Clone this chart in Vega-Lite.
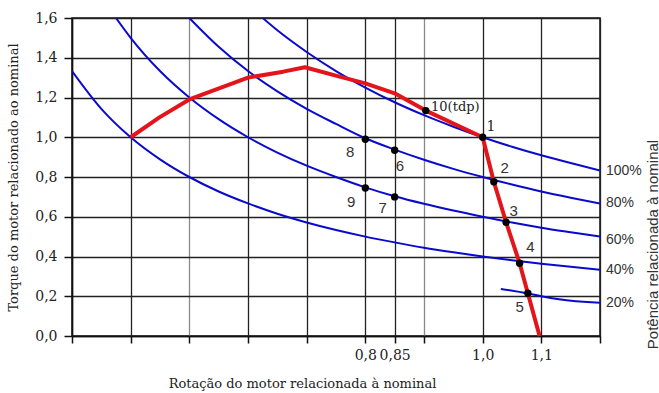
{
  "$schema": "https://vega.github.io/schema/vega-lite/v6.json",
  "width": 528,
  "height": 318,
  "autosize": {"type": "none"},
  "padding": {"left": 72, "top": 18, "right": 59, "bottom": 57},
  "background": "white",
  "config": {
    "view": {"stroke": "#111", "strokeWidth": 1.5},
    "axis": {"labelFont": "DejaVu Serif", "titleFont": "DejaVu Serif", "labelColor": "#222", "titleColor": "#222", "titleFontWeight": "normal"}
  },
  "datasets": {
    "curves": [
      {"curve": "100%", "n": 0.625, "t": 1.6}, {"curve": "100%", "n": 0.65, "t": 1.538}, {"curve": "100%", "n": 0.7, "t": 1.429}, {"curve": "100%", "n": 0.75, "t": 1.333}, {"curve": "100%", "n": 0.8, "t": 1.25}, {"curve": "100%", "n": 0.85, "t": 1.176}, {"curve": "100%", "n": 0.9, "t": 1.111}, {"curve": "100%", "n": 0.95, "t": 1.053}, {"curve": "100%", "n": 1.0, "t": 1.0}, {"curve": "100%", "n": 1.05, "t": 0.952}, {"curve": "100%", "n": 1.1, "t": 0.909}, {"curve": "100%", "n": 1.15, "t": 0.87}, {"curve": "100%", "n": 1.2, "t": 0.833},
      {"curve": "80%", "n": 0.5, "t": 1.6}, {"curve": "80%", "n": 0.55, "t": 1.455}, {"curve": "80%", "n": 0.6, "t": 1.333}, {"curve": "80%", "n": 0.65, "t": 1.231}, {"curve": "80%", "n": 0.7, "t": 1.143}, {"curve": "80%", "n": 0.75, "t": 1.067}, {"curve": "80%", "n": 0.8, "t": 0.995}, {"curve": "80%", "n": 0.85, "t": 0.938}, {"curve": "80%", "n": 0.9, "t": 0.887}, {"curve": "80%", "n": 0.95, "t": 0.841}, {"curve": "80%", "n": 1.0, "t": 0.8}, {"curve": "80%", "n": 1.05, "t": 0.762}, {"curve": "80%", "n": 1.1, "t": 0.727}, {"curve": "80%", "n": 1.15, "t": 0.696}, {"curve": "80%", "n": 1.2, "t": 0.667},
      {"curve": "60%", "n": 0.375, "t": 1.6}, {"curve": "60%", "n": 0.4, "t": 1.5}, {"curve": "60%", "n": 0.45, "t": 1.333}, {"curve": "60%", "n": 0.5, "t": 1.2}, {"curve": "60%", "n": 0.55, "t": 1.091}, {"curve": "60%", "n": 0.6, "t": 1.0}, {"curve": "60%", "n": 0.65, "t": 0.923}, {"curve": "60%", "n": 0.7, "t": 0.857}, {"curve": "60%", "n": 0.75, "t": 0.8}, {"curve": "60%", "n": 0.8, "t": 0.748}, {"curve": "60%", "n": 0.85, "t": 0.703}, {"curve": "60%", "n": 0.9, "t": 0.665}, {"curve": "60%", "n": 0.95, "t": 0.631}, {"curve": "60%", "n": 1.0, "t": 0.6}, {"curve": "60%", "n": 1.05, "t": 0.571}, {"curve": "60%", "n": 1.1, "t": 0.545}, {"curve": "60%", "n": 1.15, "t": 0.522}, {"curve": "60%", "n": 1.2, "t": 0.5},
      {"curve": "40%", "n": 0.3, "t": 1.333}, {"curve": "40%", "n": 0.35, "t": 1.143}, {"curve": "40%", "n": 0.4, "t": 1.0}, {"curve": "40%", "n": 0.45, "t": 0.889}, {"curve": "40%", "n": 0.5, "t": 0.8}, {"curve": "40%", "n": 0.55, "t": 0.727}, {"curve": "40%", "n": 0.6, "t": 0.667}, {"curve": "40%", "n": 0.65, "t": 0.615}, {"curve": "40%", "n": 0.7, "t": 0.571}, {"curve": "40%", "n": 0.75, "t": 0.533}, {"curve": "40%", "n": 0.8, "t": 0.5}, {"curve": "40%", "n": 0.85, "t": 0.471}, {"curve": "40%", "n": 0.9, "t": 0.444}, {"curve": "40%", "n": 0.95, "t": 0.421}, {"curve": "40%", "n": 1.0, "t": 0.4}, {"curve": "40%", "n": 1.05, "t": 0.381}, {"curve": "40%", "n": 1.1, "t": 0.364}, {"curve": "40%", "n": 1.15, "t": 0.348}, {"curve": "40%", "n": 1.2, "t": 0.333},
      {"curve": "20%", "n": 1.031, "t": 0.237}, {"curve": "20%", "n": 1.077, "t": 0.214}, {"curve": "20%", "n": 1.1, "t": 0.2}, {"curve": "20%", "n": 1.13, "t": 0.185}, {"curve": "20%", "n": 1.2, "t": 0.167}
    ],
    "red": [
      {"o": 1, "n": 0.4, "t": 1.0}, {"o": 2, "n": 0.449, "t": 1.1}, {"o": 3, "n": 0.5, "t": 1.19}, {"o": 4, "n": 0.6, "t": 1.3}, {"o": 5, "n": 0.66, "t": 1.33}, {"o": 6, "n": 0.697, "t": 1.352}, {"o": 7, "n": 0.756, "t": 1.305}, {"o": 8, "n": 0.8, "t": 1.271}, {"o": 9, "n": 0.85, "t": 1.221}, {"o": 10, "n": 0.903, "t": 1.134}, {"o": 11, "n": 1.0, "t": 1.0}, {"o": 12, "n": 1.019, "t": 0.776}, {"o": 13, "n": 1.04, "t": 0.572}, {"o": 14, "n": 1.063, "t": 0.366}, {"o": 15, "n": 1.077, "t": 0.215}, {"o": 16, "n": 1.097, "t": 0.0}
    ],
    "pts": [
      {"id": "1", "n": 1.0, "t": 1.0, "ln": 1.014, "lt": 1.053},
      {"id": "2", "n": 1.019, "t": 0.776, "ln": 1.0375, "lt": 0.845},
      {"id": "3", "n": 1.04, "t": 0.572, "ln": 1.053, "lt": 0.63},
      {"id": "4", "n": 1.063, "t": 0.366, "ln": 1.0816, "lt": 0.448},
      {"id": "5", "n": 1.077, "t": 0.215, "ln": 1.063, "lt": 0.147},
      {"id": "6", "n": 0.85, "t": 0.935, "ln": 0.859, "lt": 0.857},
      {"id": "7", "n": 0.85, "t": 0.7, "ln": 0.8295, "lt": 0.644},
      {"id": "8", "n": 0.8, "t": 0.99, "ln": 0.774, "lt": 0.927},
      {"id": "9", "n": 0.8, "t": 0.745, "ln": 0.776, "lt": 0.676},
      {"id": "10(tdp)", "n": 0.903, "t": 1.134, "ln": 0.912, "lt": 1.154}
    ],
    "pct": [
      {"label": "100%", "n": 1.2, "t": 0.828},
      {"label": "80%", "n": 1.2, "t": 0.667},
      {"label": "60%", "n": 1.2, "t": 0.483},
      {"label": "40%", "n": 1.2, "t": 0.332},
      {"label": "20%", "n": 1.2, "t": 0.165}
    ]
  },
  "resolve": {"axis": {"y": "independent"}},
  "layer": [
    {
      "data": {"name": "curves"},
      "mark": {"type": "line", "color": "#0a0acd", "strokeWidth": 2, "interpolate": "monotone", "clip": true},
      "encoding": {
        "x": {"field": "n", "type": "quantitative",
          "scale": {"domain": [0.3, 1.2], "nice": false, "zero": false},
          "axis": {
            "values": [0.3, 0.4, 0.5, 0.6, 0.7, 0.8, 0.85, 0.9, 1.0, 1.1, 1.2],
            "labelExpr": "datum.value == 0.8 ? '0,8' : datum.value == 0.85 ? '0,85' : datum.value == 1 ? '1,0' : datum.value == 1.1 ? '1,1' : ''",
            "labelOverlap": false,
            "labelFontSize": 14,
            "labelPadding": 5,
            "tickSize": 7,
            "tickColor": "#111",
            "tickWidth": 1.5,
            "domainColor": "#111",
            "domainWidth": 1.5,
            "grid": true,
            "gridColor": {"condition": {"test": "datum.value == 0.5 || datum.value == 0.9", "value": "#8a8a8a"}, "value": "#222"},
            "gridWidth": 1.3,
            "gridOpacity": 1,
            "title": "Rotação do motor relacionada à nominal",
            "titleFontSize": 13,
            "titleX": 230,
            "titleY": 47,
            "titleAlign": "center",
            "titleBaseline": "middle"
          }
        },
        "y": {"field": "t", "type": "quantitative",
          "scale": {"domain": [0, 1.6], "nice": false, "zero": false},
          "axis": {
            "values": [0, 0.2, 0.4, 0.6, 0.8, 1.0, 1.2, 1.4, 1.6],
            "labelExpr": "replace(format(datum.value, '.1f'), '.', ',')",
            "labelFontSize": 14,
            "labelPadding": 7,
            "tickSize": 8,
            "tickColor": "#111",
            "tickWidth": 1.5,
            "domainColor": "#111",
            "domainWidth": 1.5,
            "grid": true,
            "gridColor": "#222",
            "gridWidth": 1.3,
            "gridOpacity": 1,
            "title": "Torque do motor relacionado ao nominal",
            "titleFontSize": 13,
            "titleX": -59,
            "titleY": 159,
            "titleAngle": 270,
            "titleAlign": "center",
            "titleBaseline": "middle"
          }
        },
        "detail": {"field": "curve", "type": "nominal"}
      }
    },
    {
      "data": {"name": "red"},
      "mark": {"type": "line", "color": "#e3151b", "strokeWidth": 4, "strokeJoin": "round"},
      "encoding": {
        "x": {"field": "n", "type": "quantitative"},
        "y": {"field": "t", "type": "quantitative", "axis": null},
        "order": {"field": "o", "type": "quantitative"}
      }
    },
    {
      "data": {"name": "pts"},
      "mark": {"type": "point", "filled": true, "color": "#000", "size": 55, "opacity": 1},
      "encoding": {
        "x": {"field": "n", "type": "quantitative"},
        "y": {"field": "t", "type": "quantitative", "axis": null}
      }
    },
    {
      "data": {"name": "pts"},
      "transform": [{"filter": "datum.id != '10(tdp)' && datum.id != '1'"}],
      "mark": {"type": "text", "font": "Liberation Sans", "fontSize": 15, "color": "#333", "align": "center", "baseline": "middle"},
      "encoding": {
        "x": {"field": "ln", "type": "quantitative"},
        "y": {"field": "lt", "type": "quantitative", "axis": null},
        "text": {"field": "id"}
      }
    },
    {
      "data": {"name": "pts"},
      "transform": [{"filter": "datum.id == '1'"}],
      "mark": {"type": "text", "font": "DejaVu Serif", "fontSize": 14, "color": "#222", "align": "center", "baseline": "middle"},
      "encoding": {
        "x": {"field": "ln", "type": "quantitative"},
        "y": {"field": "lt", "type": "quantitative", "axis": null},
        "text": {"field": "id"}
      }
    },
    {
      "data": {"name": "pts"},
      "transform": [{"filter": "datum.id == '10(tdp)'"}],
      "mark": {"type": "text", "font": "DejaVu Serif", "fontSize": 13, "color": "#222", "align": "left", "baseline": "middle"},
      "encoding": {
        "x": {"field": "ln", "type": "quantitative"},
        "y": {"field": "lt", "type": "quantitative", "axis": null},
        "text": {"field": "id"}
      }
    },
    {
      "data": {"name": "pct"},
      "mark": {"type": "text", "font": "Liberation Sans", "fontSize": 14, "color": "#333", "align": "left", "baseline": "middle", "dx": 6},
      "encoding": {
        "x": {"field": "n", "type": "quantitative"},
        "y": {"field": "t", "type": "quantitative",
          "axis": {
            "orient": "right",
            "labels": false,
            "ticks": false,
            "domain": false,
            "grid": false,
            "title": "Potência relacionada à nominal",
            "titleFont": "Liberation Sans",
            "titleFontSize": 15,
            "titleColor": "#333",
            "titleX": 52,
            "titleY": 226,
            "titleAngle": 270,
            "titleAlign": "center",
            "titleBaseline": "middle"
          }
        },
        "text": {"field": "label"}
      }
    }
  ]
}
